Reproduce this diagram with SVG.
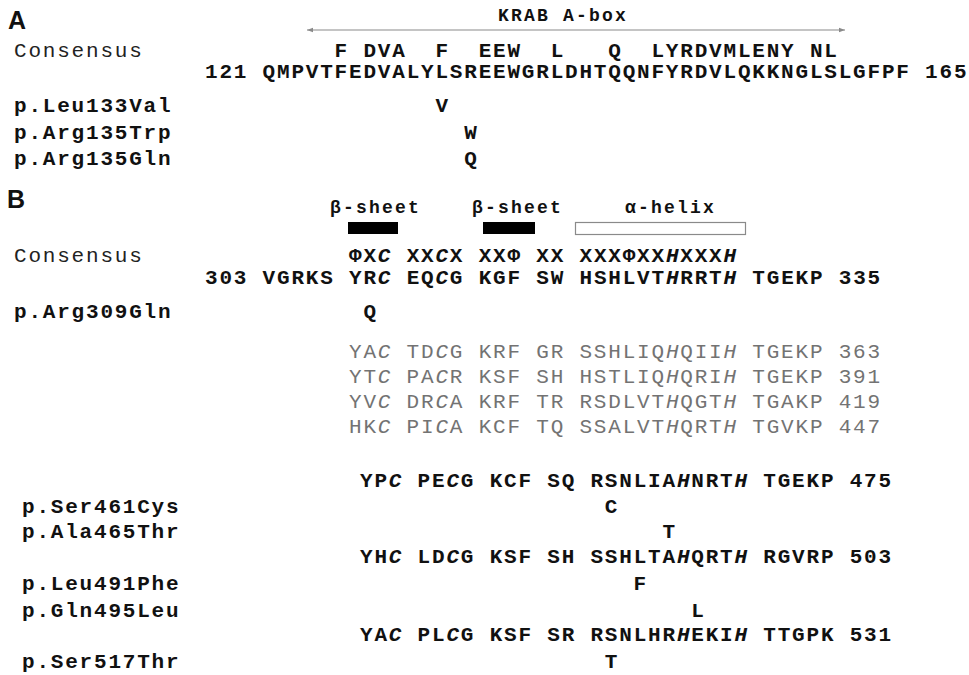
<svg xmlns="http://www.w3.org/2000/svg" width="969" height="675" viewBox="0 0 969 675">
<style>
  .bg { fill: #ffffff; }
  .mono { font-family: "Liberation Mono", "DejaVu Sans Mono", monospace; font-size: 21px; letter-spacing: 1.8px; font-weight: bold; fill: #111111; white-space: pre; }
  .reg { font-weight: normal; fill: #222222; }
  .gray { font-weight: normal; fill: #737373; }
  .it { font-style: italic; }
  .small { font-family: "Liberation Mono", "DejaVu Sans Mono", monospace; font-size: 18px; letter-spacing: 2.2px; font-weight: bold; fill: #111111; white-space: pre; }
  .panel { font-family: "Liberation Sans", Arial, sans-serif; font-weight: bold; font-size: 25px; fill: #111111; }
  .span { stroke: #8a8a8a; stroke-width: 1.2; fill: none; }
  .sheet { fill: #000000; }
  .helix { fill: #ffffff; stroke: #8a8a8a; stroke-width: 1.2; }
</style>
<defs>
  <marker id="ah" viewBox="0 0 6 6" refX="6" refY="3" markerWidth="6" markerHeight="6" markerUnits="userSpaceOnUse" orient="auto-start-reverse">
    <path d="M0,0.8 L6,3 L0,5.2 z" fill="#8a8a8a"/>
  </marker>
</defs>
<rect class="bg" x="0" y="0" width="969" height="675"/>

<g id="connectors">
  <line class="span" x1="307" y1="30" x2="845" y2="30" marker-start="url(#ah)" marker-end="url(#ah)"/>
</g>

<!-- Panel A -->
<g id="panel-a-label"><text class="panel" x="8" y="29">A</text></g>
<g id="krab-label"><text class="small" x="498" y="21">KRAB A-box</text></g>
<g id="a-consensus">
  <text class="mono reg" x="14" y="57">Consensus</text>
  <text class="mono" x="205" y="57" xml:space="preserve">         F DVA  F  EEW  L   Q  LYRDVMLENY NL</text>
</g>
<g id="a-sequence"><text class="mono" x="205" y="78" xml:space="preserve">121 QMPVTFEDVALYLSREEWGRLDHTQQNFYRDVLQKKNGLSLGFPF 165</text></g>
<g id="mut-leu133val"><text class="mono" x="14" y="112">p.Leu133Val</text><text class="mono" x="435.4" y="112">V</text></g>
<g id="mut-arg135trp"><text class="mono" x="14" y="138.5">p.Arg135Trp</text><text class="mono" x="464.2" y="138.5">W</text></g>
<g id="mut-arg135gln"><text class="mono" x="14" y="165">p.Arg135Gln</text><text class="mono" x="464.2" y="165">Q</text></g>

<!-- Panel B -->
<g id="panel-b-label"><text class="panel" x="7" y="208">B</text></g>
<g id="beta-sheet-1"><text class="small" x="330" y="213">β-sheet</text><rect class="sheet" x="348" y="222" width="50" height="12"/></g>
<g id="beta-sheet-2"><text class="small" x="472" y="213">β-sheet</text><rect class="sheet" x="483" y="222" width="52" height="12"/></g>
<g id="alpha-helix"><text class="small" x="625" y="213">α-helix</text><rect class="helix" x="575.5" y="222.5" width="170" height="12"/></g>
<g id="b-consensus">
  <text class="mono reg" x="14" y="262">Consensus</text>
  <text class="mono" x="205" y="262" xml:space="preserve">          ΦX<tspan class="it">C</tspan> XX<tspan class="it">C</tspan>X XXΦ XX XXXΦXX<tspan class="it">H</tspan>XXX<tspan class="it">H</tspan></text>
</g>
<g id="b-seq-303"><text class="mono" x="205" y="284" xml:space="preserve">303 VGRKS YR<tspan class="it">C</tspan> EQ<tspan class="it">C</tspan>G KGF SW HSHLVT<tspan class="it">H</tspan>RRT<tspan class="it">H</tspan> TGEKP 335</text></g>
<g id="mut-arg309gln"><text class="mono" x="14" y="318">p.Arg309Gln</text><text class="mono" x="363.4" y="318">Q</text></g>

<g id="b-seq-363"><text class="mono gray" x="349" y="358" xml:space="preserve">YA<tspan class="it">C</tspan> TD<tspan class="it">C</tspan>G KRF GR SSHLIQ<tspan class="it">H</tspan>QII<tspan class="it">H</tspan> TGEKP 363</text></g>
<g id="b-seq-391"><text class="mono gray" x="349" y="383" xml:space="preserve">YT<tspan class="it">C</tspan> PA<tspan class="it">C</tspan>R KSF SH HSTLIQ<tspan class="it">H</tspan>QRI<tspan class="it">H</tspan> TGEKP 391</text></g>
<g id="b-seq-419"><text class="mono gray" x="349" y="408" xml:space="preserve">YV<tspan class="it">C</tspan> DR<tspan class="it">C</tspan>A KRF TR RSDLVT<tspan class="it">H</tspan>QGT<tspan class="it">H</tspan> TGAKP 419</text></g>
<g id="b-seq-447"><text class="mono gray" x="349" y="433" xml:space="preserve">HK<tspan class="it">C</tspan> PI<tspan class="it">C</tspan>A KCF TQ SSALVT<tspan class="it">H</tspan>QRT<tspan class="it">H</tspan> TGVKP 447</text></g>

<g id="b-seq-475"><text class="mono" x="360" y="487" xml:space="preserve">YP<tspan class="it">C</tspan> PE<tspan class="it">C</tspan>G KCF SQ RSNLIA<tspan class="it">H</tspan>NRT<tspan class="it">H</tspan> TGEKP 475</text></g>
<g id="mut-ser461cys"><text class="mono" x="22" y="513">p.Ser461Cys</text><text class="mono" x="604.8" y="513">C</text></g>
<g id="mut-ala465thr"><text class="mono" x="22" y="538">p.Ala465Thr</text><text class="mono" x="662.4" y="538">T</text></g>
<g id="b-seq-503"><text class="mono" x="360" y="563" xml:space="preserve">YH<tspan class="it">C</tspan> LD<tspan class="it">C</tspan>G KSF SH SSHLTA<tspan class="it">H</tspan>QRT<tspan class="it">H</tspan> RGVRP 503</text></g>
<g id="mut-leu491phe"><text class="mono" x="22" y="590">p.Leu491Phe</text><text class="mono" x="633.6" y="590">F</text></g>
<g id="mut-gln495leu"><text class="mono" x="22" y="617">p.Gln495Leu</text><text class="mono" x="691.2" y="617">L</text></g>
<g id="b-seq-531"><text class="mono" x="360" y="641" xml:space="preserve">YA<tspan class="it">C</tspan> PL<tspan class="it">C</tspan>G KSF SR RSNLHR<tspan class="it">H</tspan>EKI<tspan class="it">H</tspan> TTGPK 531</text></g>
<g id="mut-ser517thr"><text class="mono" x="22" y="668">p.Ser517Thr</text><text class="mono" x="604.8" y="668">T</text></g>
</svg>
